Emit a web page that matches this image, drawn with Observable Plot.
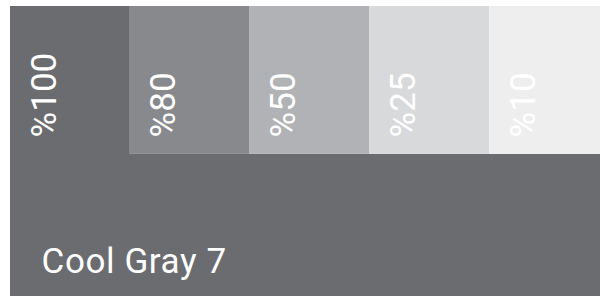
<!DOCTYPE html>
<html>
<head>
<meta charset="utf-8">
<script src="https://cdn.jsdelivr.net/npm/d3@7"></script>
<script src="https://cdn.jsdelivr.net/npm/@observablehq/plot@0.6"></script>
<style>
  html, body { margin: 0; padding: 0; background: #ffffff; }
  svg { display: block; }
  .base-label text { letter-spacing: 0.6px; }
</style>
</head>
<body>
<div id="chart"></div>
<script>
// Tint labels (left to right) and their swatch colours
const tints = ["%100", "%80", "%50", "%25", "%10"];
const tintColors = ["#6b6c70", "#88898c", "#b1b2b5", "#d8d9db", "#eeeeee"];
// Base colour name
const baseName = "Cool Gray 7";
const baseColor = "#6b6c70";
// Fraction of the block height taken by the tint row
const tintRowShare = 0.51;

const swatches = tints.map((label, i) => ({
  label,
  color: tintColors[i],
  x1: i,
  x2: i + 1,
  y1: 0,
  y2: i === 0 ? 1 : tintRowShare
}));

const base = [{ label: baseName, color: baseColor, x1: 0, x2: tints.length, y1: tintRowShare, y2: 1 }];

const chart = Plot.plot({
  width: 600,
  height: 297,
  margin: 0,
  x: { domain: [0, 5], range: [10, 609], axis: null },
  y: { domain: [0, 1], range: [6, 296], axis: null },
  marks: [
    Plot.rect(base, { x1: "x1", x2: "x2", y1: "y1", y2: "y2", fill: "color" }),
    Plot.rect(swatches, { x1: "x1", x2: "x2", y1: "y1", y2: "y2", fill: "color" }),
    Plot.text(swatches, {
      x: "x1", y: tintRowShare, text: "label",
      rotate: -90, textAnchor: "start", lineAnchor: "bottom",
      dx: 45, dy: -17,
      fill: "#ffffff", fontSize: 35, fontFamily: "Roboto"
    }),
    Plot.text(base, {
      x: "x1", y: "y2", text: "label",
      textAnchor: "start", lineAnchor: "bottom",
      dx: 31, dy: -24,
      fill: "#ffffff", fontSize: 35, fontFamily: "Roboto",
      className: "base-label"
    })
  ]
});
document.getElementById("chart").appendChild(chart);
</script>
</body>
</html>
